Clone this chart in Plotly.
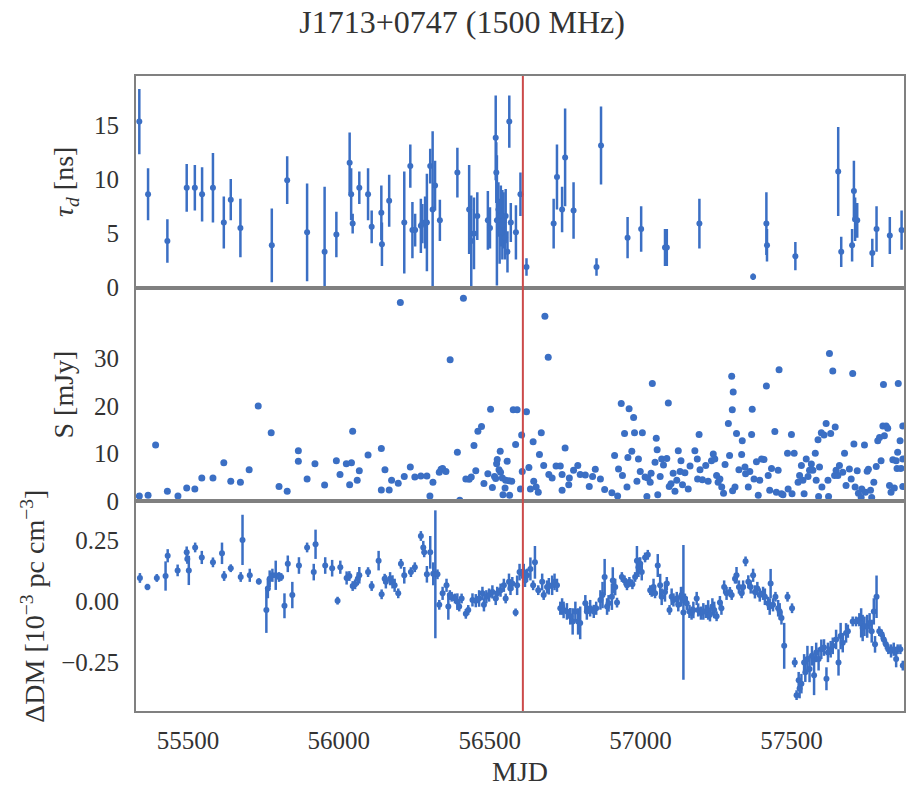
import plotly.graph_objects as go
from plotly.subplots import make_subplots

# ---------------- data ----------------
tau_mjd = [55339, 55368, 55432, 55496, 55523, 55547, 55583, 55619, 55642, 55674,
           55778, 55829, 55895, 55953, 55992, 56036, 56041, 56046, 56068, 56097,
           56109, 56141, 56143, 56167, 56217, 56237, 56244, 56253, 56272, 56277,
           56286, 56292, 56303, 56311, 56319, 56335, 56393, 56432, 56439, 56448,
           56459, 56494, 56501, 56520, 56522, 56524, 56529, 56533, 56537, 56542,
           56546, 56551, 56553, 56559, 56565, 56570, 56587, 56602, 56622, 56712,
           56723, 56740, 56750, 56778, 56854, 56869, 56957, 57002, 57081, 57087,
           57195, 57373, 57417, 57419, 57513, 57655, 57665, 57701, 57707, 57711,
           57718, 57768, 57782, 57826, 57865]
tau_val = [15.3, 8.6, 4.3, 9.2, 9.2, 8.6, 9.2, 6.0, 8.1, 5.5,
           3.9, 9.9, 5.1, 3.3, 4.9, 11.5, 8.6, 5.9, 9.2, 8.6,
           5.6, 6.9, 4.0, 8.0, 6.0, 11.2, 5.3, 5.3, 5.7, 5.9,
           6.0, 6.0, 11.2, 7.2, 9.4, 6.2, 10.6, 7.2, 4.3, 5.0,
           6.6, 6.2, 5.5, 13.8, 10.6, 6.2, 7.2, 5.2, 6.6, 5.8,
           6.2, 4.6, 6.6, 3.3, 15.3, 6.0, 5.1, 8.6, 1.9, 5.9,
           10.2, 7.2, 12.0, 7.1, 1.9, 13.1, 4.6, 5.4, 3.7, 3.7,
           5.9, 1.0, 5.9, 3.9, 2.9, 10.7, 3.3, 3.9, 8.9, 6.3,
           6.2, 3.2, 5.4, 4.8, 5.3]
tau_err = [3.0, 2.4, 2.0, 2.2, 2.1, 2.5, 3.2, 2.4, 1.9, 2.7,
           3.4, 2.2, 4.5, 6.0, 2.1, 2.8, 2.4, 0.9, 1.5, 2.4,
           1.5, 2.5, 2.0, 2.4, 4.7, 2.0, 2.6, 1.5, 2.5, 1.8,
           2.4, 4.5, 1.6, 7.2, 2.3, 1.9, 2.3, 4.1, 4.2, 3.3,
           2.2, 2.7, 1.9, 3.9, 2.8, 6.0, 2.5, 3.0, 2.8, 3.2,
           2.6, 2.0, 2.5, 1.9, 2.4, 1.8, 2.5, 2.0, 0.8, 2.3,
           3.0, 2.1, 4.5, 2.6, 0.8, 3.6, 1.9, 2.1, 1.7, 1.7,
           2.3, 0.3, 2.9, 1.5, 1.3, 4.1, 1.4, 1.5, 2.8, 2.0,
           1.6, 1.3, 2.1, 1.7, 1.8]

s_mjd = [55339, 55368, 55393, 55432, 55467, 55496, 55523, 55546, 55583, 55619,
         55642, 55674, 55703, 55733, 55776, 55802, 55829, 55866, 55866, 55895,
         55921, 55953, 55992, 56004, 56025, 56036, 56042, 56046, 56061, 56068,
         56097, 56141, 56141, 56153, 56167, 56175, 56197, 56204, 56217, 56237,
         56252, 56272, 56292, 56302, 56312, 56333, 56339, 56344, 56355, 56369,
         56393, 56401, 56413, 56421, 56432, 56439, 56448, 56454, 56461, 56473,
         56481, 56494, 56503, 56509, 56516, 56520, 56523, 56525, 56531, 56535,
         56536, 56542, 56544, 56551, 56553, 56558, 56564, 56566, 56573, 56578,
         56586, 56591, 56602, 56606, 56608,
         56622, 56630, 56635, 56644, 56646, 56654, 56661, 56665, 56671, 56679,
         56683, 56694, 56696, 56707, 56720, 56734, 56740, 56740, 56750, 56762,
         56764, 56778, 56792, 56800, 56817, 56830, 56841, 56850, 56867, 56881,
         56905, 56914, 56924, 56927, 56936, 56940, 56947, 56955, 56958, 56962,
         56971, 56977, 56980, 56988, 56993, 56999, 57006, 57015, 57021, 57024,
         57032, 57035, 57039, 57048, 57052, 57055, 57057, 57065, 57070, 57076,
         57087, 57092, 57095, 57101, 57108, 57114, 57120, 57125, 57131, 57134,
         57139, 57147, 57158, 57164, 57180, 57188, 57189, 57194, 57197, 57205,
         57216, 57224, 57235, 57241, 57246, 57252, 57257, 57263, 57269, 57275,
         57280, 57291, 57295, 57302, 57305, 57307, 57304, 57313, 57318, 57326,
         57335, 57337, 57346, 57348, 57357, 57362, 57368, 57370, 57376, 57384,
         57390, 57395, 57401, 57409, 57417, 57423, 57428, 57434, 57445, 57450,
         57456, 57459, 57467, 57472, 57487, 57489, 57500, 57502, 57509, 57522,
         57527, 57533, 57538, 57542, 57549, 57555, 57560, 57566, 57571, 57579,
         57582, 57588, 57590, 57593, 57599, 57601, 57608, 57615, 57621, 57623,
         57626, 57630, 57637, 57643, 57645, 57648, 57654, 57659, 57670, 57676,
         57681, 57692, 57698, 57703, 57707, 57711, 57718, 57722, 57731, 57733,
         57742, 57745, 57751, 57755, 57762, 57766, 57773, 57781, 57786, 57792,
         57797, 57803, 57805, 57808, 57814, 57819, 57825, 57830, 57836, 57841,
         57847, 57850, 57852, 57854, 57860, 57863, 57869, 57869, 57869]
s_val = [1.1, 1.25, 11.8, 2.1, 1.1, 2.8, 2.6, 4.9, 4.9, 8.1,
         4.2, 4.0, 6.6, 20.0, 14.4, 3.1, 2.1, 10.6, 8.4, 4.7,
         7.9, 3.4, 8.5, 5.6, 7.9, 3.5, 8.1, 14.7, 4.4, 6.4,
         9.7, 11.1, 2.4, 6.6, 2.4, 4.4, 3.8, 41.7, 5.2, 7.2,
         5.1, 5.3, 5.3, 1.1, 4.0, 6.1, 6.7, 6.9, 6.25, 29.7,
         10.3, 0.2, 42.6, 4.7, 4.65, 5.1, 11.7, 6.4, 14.7, 15.7,
         3.75, 5.8, 19.3, 2.9, 5.2, 4.8, 7.9, 8.75, 6.6, 10.5,
         6.1, 4.9, 1.4, 2.8, 4.4, 8.4, 4.3, 1.25, 4.2, 19.2,
         11.9, 19.2, 2.6, 13.9, 6.25,
         18.8, 7.1, 2.6, 12.5, 4.2, 3.0, 1.9, 9.8, 14.4, 7.5,
         38.8, 30.2, 5.6, 4.9, 7.4, 7.4, 5.6, 2.3, 11.2, 3.5,
         4.9, 6.5, 7.5, 5.6, 5.5, 3.1, 5.2, 6.7, 4.7, 2.5,
         1.8, 9.6, 1.1, 6.8, 20.5, 5.4, 14.2, 3.0, 9.2, 19.4,
         10.5, 17.6, 14.4, 4.2, 8.9, 6.25, 14.4, 5.1, 1.0, 4.9,
         4.0, 5.9, 24.7, 8.2, 13.2, 10.8, 1.4, 5.2, 8.9, 7.6,
         9.0, 20.6, 3.1, 3.7, 5.9, 2.1, 4.4, 10.6, 6.25, 8.5,
         3.5, 6.0, 2.6, 7.4, 10.6, 8.9, 4.7, 14.0, 6.6, 4.5,
         7.5, 4.2, 8.5, 9.9, 8.9, 5.4, 4.0, 4.7, 3.0, 1.7,
         7.7, 16.3, 9.6, 26.25, 2.2, 22.9, 19.2, 3.0, 14.2, 6.6,
         9.8, 12.7, 7.2, 5.8, 3.0, 6.25, 14.0, 19.3, 4.7, 8.3,
         1.25, 4.4, 8.9, 8.75, 24.2, 5.4, 2.3, 6.9, 14.65, 1.9,
         6.5, 27.6, 1.6, 1.4, 10.1, 2.6, 14.0, 1.6, 10.1, 4.0,
         5.4, 7.5, 4.4, 1.6, 8.9, 5.2, 6.5, 7.8, 6.5, 10.1,
         4.4, 12.9, 1.0, 7.2, 14.4, 3.0, 13.9, 16.3, 4.4, 1.0,
         31.0, 14.2, 27.3, 5.4, 15.6, 6.5, 5.4, 7.5, 6.1, 10.1,
         3.3, 6.8, 4.7, 26.8, 12.0, 3.0, 6.4, 1.7, 0.8, 2.6,
         11.8, 1.9, 6.3, 6.7, 2.3, 0.8, 4.0, 7.3, 12.7, 13.4,
         8.5, 15.8, 24.5, 13.75, 15.8, 15.3, 3.3, 1.9, 8.7, 2.8,
         8.5, 6.9, 10.3, 24.7, 12.7, 6.9, 15.8, 8.9, 3.1]

dm_mjd = [55341, 55366, 55397, 55426, 55433, 55466, 55496, 55498, 55503, 55524,
          55546, 55583, 55613, 55620, 55642, 55675, 55681, 55705, 55735, 55760,
          55765, 55771, 55780, 55791, 55802, 55809, 55820, 55831, 55846, 55868,
          55895, 55917, 55923, 55955, 55978, 55996, 56005, 56026, 56035, 56046,
          56054, 56063, 56068, 56097, 56109, 56132, 56142, 56152, 56156, 56170,
          56178, 56185, 56197, 56206, 56217, 56239, 56252, 56272, 56280, 56283,
          56292, 56303, 56313, 56320, 56327, 56333, 56344, 56357, 56363, 56368,
          56374, 56385, 56393, 56399, 56407, 56421, 56429, 56443, 56454, 56465,
          56476, 56481, 56489, 56498, 56509, 56520, 56525, 56536, 56547, 56553,
          56564, 56569, 56575, 56586, 56591, 56599, 56608, 56613, 56617, 56624,
          56635, 56644, 56650, 56661, 56674, 56679, 56690, 56696, 56707, 56715,
          56723, 56734, 56740, 56745, 56756, 56767, 56775, 56784, 56793, 56800,
          56817, 56822, 56833, 56845, 56853, 56867, 56874, 56881, 56889, 56894,
          56905, 56908, 56916, 56922, 56938, 56947, 56955, 56963, 56973, 56982,
          56988, 56993, 56999, 57004, 57015, 57024, 57032, 57037, 57043, 57048,
          57057, 57065, 57070, 57081, 57087, 57096, 57103, 57109, 57120, 57125,
          57134, 57136, 57142, 57147, 57153, 57162, 57169, 57175, 57186, 57191,
          57200, 57208, 57216, 57224, 57230, 57238, 57244, 57252, 57263, 57268,
          57277, 57285, 57296, 57302, 57313, 57318, 57326, 57335, 57340, 57348,
          57357, 57365, 57373, 57379, 57387, 57395, 57406, 57412, 57423, 57428,
          57431, 57439, 57447, 57456, 57461, 57467, 57476, 57487, 57502, 57511,
          57517, 57524, 57527, 57533, 57542, 57546, 57553, 57560, 57568, 57575,
          57582, 57590, 57599, 57608, 57616, 57621, 57630, 57637, 57648, 57656,
          57663, 57670, 57681, 57687, 57703, 57714, 57725, 57731, 57736, 57742,
          57751, 57759, 57766, 57773, 57777, 57782, 57791, 57799, 57806, 57813,
          57821, 57830, 57839, 57847, 57852, 57861, 57869]
dm_val = [0.097, 0.060, 0.097, 0.105, 0.188, 0.128, 0.202, 0.175, 0.128, 0.222,
          0.181, 0.161, 0.198, 0.105, 0.137, 0.101, 0.253, 0.108, 0.083, -0.034,
          0.054, 0.094, 0.108, 0.108, 0.101, 0.101, -0.017, 0.155, 0.027, 0.148,
          0.222, 0.121, 0.235, 0.148, 0.137, 0.004, 0.141, 0.097, 0.105, 0.064,
          0.071, 0.094, 0.108, 0.121, 0.064, 0.168, 0.030, 0.094, 0.081, 0.094,
          0.081, 0.067, 0.034, 0.155, 0.108, 0.121, 0.141, 0.269, 0.222, 0.202,
          0.112, 0.202, 0.114, 0.112, 0.112, -0.013, 0.034, 0.067, -0.020, 0.027,
          0.020, 0.013, 0.000, -0.020, 0.013, -0.050, -0.034, 0.007, 0.004, 0.013,
          0.034, -0.013, 0.020, 0.027, 0.040, 0.013, 0.034, 0.047, 0.067, 0.013,
          0.081, 0.054, 0.074, -0.044, 0.067, 0.121, 0.114, 0.121, 0.087, 0.108,
          0.134, 0.067, 0.161, 0.047, 0.081, 0.027, 0.060, 0.063, 0.067, 0.081,
          0.067, -0.027, -0.020, -0.034, -0.040, -0.060, -0.081, -0.040, -0.081, -0.087,
          -0.007, -0.040, -0.027, -0.040, -0.027, 0.007, 0.027, 0.101, -0.020, -0.007,
          0.020, 0.087, 0.060, -0.004, 0.101, 0.087, 0.067, 0.081, 0.071, 0.101,
          0.168, 0.141, 0.155, 0.121, 0.181, 0.192, 0.047, 0.040, 0.060, 0.034,
          0.148, 0.067, 0.020, 0.040, 0.074, -0.034, 0.020, 0.007, 0.013, -0.013,
          0.020, 0.027, -0.044, 0.013, -0.007, -0.040, -0.047, -0.034, 0.013, -0.034,
          -0.047, -0.040, -0.040, -0.034, -0.054, -0.020, -0.034, -0.060, -0.004, -0.027,
          0.060, 0.034, 0.040, 0.027, 0.094, 0.108, 0.060, 0.034, 0.060, 0.165,
          0.081, 0.060, 0.108, 0.040, 0.054, 0.027, 0.034, 0.020, -0.007, -0.020,
          0.074, -0.013, 0.020, -0.027, -0.040, -0.067, -0.181, 0.020, -0.027, -0.249,
          -0.383, -0.322, -0.356, -0.336, -0.249, -0.289, -0.235, -0.276, -0.222, -0.302,
          -0.208, -0.235, -0.195, -0.188, -0.316, -0.208, -0.195, -0.181, -0.155, -0.249,
          -0.141, -0.168, -0.128, -0.121, -0.081, -0.081, -0.074, -0.087, -0.108, -0.101,
          -0.101, -0.087, -0.121, -0.040, -0.175, 0.020, -0.121, -0.134, -0.155, -0.175,
          -0.195, -0.202, -0.195, -0.235, -0.195, -0.195, -0.262]
dm_err = [0.020, 0.013, 0.016, 0.060, 0.027, 0.024, 0.024, 0.020, 0.060, 0.020,
          0.027, 0.020, 0.044, 0.020, 0.016, 0.020, 0.103, 0.027, 0.013, 0.094,
          0.040, 0.034, 0.027, 0.060, 0.020, 0.016, 0.051, 0.034, 0.054, 0.034,
          0.020, 0.034, 0.060, 0.034, 0.034, 0.016, 0.027, 0.027, 0.020, 0.020,
          0.020, 0.027, 0.034, 0.020, 0.020, 0.040, 0.020, 0.020, 0.027, 0.027,
          0.027, 0.027, 0.020, 0.020, 0.034, 0.020, 0.020, 0.020, 0.027, 0.020,
          0.034, 0.067, 0.047, 0.262, 0.020, 0.020, 0.027, 0.027, 0.054, 0.020,
          0.020, 0.020, 0.034, 0.020, 0.020, 0.020, 0.020, 0.027, 0.027, 0.034,
          0.027, 0.027, 0.027, 0.027, 0.027, 0.027, 0.027, 0.027, 0.027, 0.020,
          0.034, 0.027, 0.027, 0.016, 0.040, 0.034, 0.020, 0.034, 0.027, 0.027,
          0.047, 0.020, 0.067, 0.020, 0.034, 0.020, 0.027, 0.034, 0.040, 0.034,
          0.027, 0.027, 0.034, 0.034, 0.034, 0.034, 0.054, 0.040, 0.054, 0.067,
          0.034, 0.034, 0.034, 0.027, 0.027, 0.040, 0.054, 0.074, 0.034, 0.034,
          0.054, 0.054, 0.034, 0.020, 0.020, 0.020, 0.020, 0.020, 0.020, 0.020,
          0.060, 0.040, 0.027, 0.034, 0.020, 0.020, 0.020, 0.020, 0.034, 0.020,
          0.047, 0.047, 0.034, 0.040, 0.027, 0.020, 0.034, 0.027, 0.027, 0.027,
          0.040, 0.034, 0.276, 0.020, 0.027, 0.027, 0.027, 0.034, 0.027, 0.027,
          0.027, 0.034, 0.027, 0.040, 0.027, 0.034, 0.034, 0.020, 0.027, 0.027,
          0.027, 0.027, 0.020, 0.020, 0.020, 0.034, 0.027, 0.020, 0.027, 0.020,
          0.027, 0.027, 0.027, 0.027, 0.027, 0.027, 0.027, 0.034, 0.027, 0.034,
          0.060, 0.027, 0.020, 0.034, 0.034, 0.027, 0.094, 0.020, 0.020, 0.020,
          0.020, 0.034, 0.040, 0.040, 0.034, 0.040, 0.054, 0.054, 0.040, 0.081,
          0.040, 0.047, 0.040, 0.034, 0.047, 0.040, 0.034, 0.034, 0.040, 0.054,
          0.054, 0.040, 0.040, 0.027, 0.020, 0.020, 0.027, 0.060, 0.054, 0.040,
          0.047, 0.040, 0.047, 0.054, 0.034, 0.087, 0.020, 0.020, 0.020, 0.020,
          0.020, 0.027, 0.027, 0.034, 0.020, 0.020, 0.020]

event_mjd = 56610
x_ticks = [55500, 56000, 56500, 57000, 57500]
tau_ticks = [0, 5, 10, 15]
s_ticks = [0, 10, 20, 30]
dm_ticks = [-0.25, 0.0, 0.25]

# ---------------- style ----------------
BLUE = "#3b6fc4"
RED = "#cc4a4a"
FRAME = "#808080"
TXT = "#333333"
FONT = "Liberation Serif, Times New Roman, serif"

fig = make_subplots(rows=3, cols=1, shared_xaxes=True, vertical_spacing=0)

fig.add_trace(go.Scatter(
    x=tau_mjd, y=tau_val, mode="markers",
    marker=dict(color=BLUE, size=6),
    error_y=dict(type="data", array=tau_err, color=BLUE, thickness=2.5, width=0),
    showlegend=False), row=1, col=1)

fig.add_trace(go.Scatter(
    x=s_mjd, y=s_val, mode="markers",
    marker=dict(color=BLUE, size=7),
    showlegend=False), row=2, col=1)

fig.add_trace(go.Scatter(
    x=dm_mjd, y=dm_val, mode="markers",
    marker=dict(color=BLUE, size=6),
    error_y=dict(type="data", array=dm_err, color=BLUE, thickness=2.5, width=0),
    showlegend=False), row=3, col=1)

axis_common = dict(showline=True, mirror=True, linecolor=FRAME, linewidth=2,
                   showgrid=False, zeroline=False, ticks="",
                   tickfont=dict(family=FONT, size=25, color=TXT))

fig.update_xaxes(range=[55328, 57873], **axis_common)
fig.update_xaxes(tickvals=x_ticks, tickformat="d", ticklabelstandoff=6,
                 title=dict(text="MJD", font=dict(family=FONT, size=28, color=TXT),
                            standoff=8),
                 row=3, col=1)

fig.update_yaxes(**axis_common)
fig.update_yaxes(range=[0, 19.5], tickvals=tau_ticks, ticklabelstandoff=10,
                 domain=[0.6667, 1.0],
                 title=dict(text="<i>τ<sub>d</sub></i> [ns]",
                            font=dict(family=FONT, size=28, color=TXT), standoff=12),
                 row=1, col=1)
fig.update_yaxes(range=[0, 44.8], tickvals=s_ticks, ticklabelstandoff=10,
                 domain=[0.3302, 0.6667],
                 title=dict(text="S [mJy]",
                            font=dict(family=FONT, size=28, color=TXT), standoff=12),
                 row=2, col=1)
fig.update_yaxes(range=[-0.448, 0.411], tickvals=dm_ticks, tickformat=".2f",
                 ticklabelstandoff=10, domain=[0.0, 0.3302],
                 title=dict(text="ΔDM [10<sup>−3</sup> pc cm<sup>−3</sup>]",
                            font=dict(family=FONT, size=28, color=TXT), standoff=8),
                 row=3, col=1)

for yref in ("y domain", "y2 domain", "y3 domain"):
    fig.add_shape(type="line", x0=event_mjd, x1=event_mjd, y0=0, y1=1,
                  xref="x", yref=yref, line=dict(color=RED, width=2), layer="above")

fig.update_layout(
    width=915, height=791,
    margin=dict(l=136, r=9, t=76, b=70),
    paper_bgcolor="white", plot_bgcolor="white",
    title=dict(text="J1713+0747 (1500 MHz)", x=0.505, xref="container",
               xanchor="center", y=0.972, yref="container", yanchor="middle",
               font=dict(family=FONT, size=32, color=TXT)),
    font=dict(family=FONT),
)

fig.write_html("out.html")
